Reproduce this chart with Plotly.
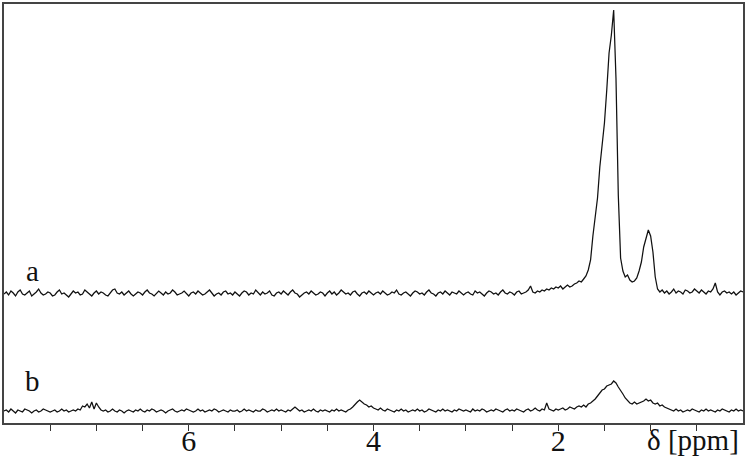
import plotly.graph_objects as go

# chemical-shift grid (ppm), 0.025 ppm steps from 8.0 down to 0.0
ppm_start = 8.0
ppm_step = 0.025

# spectrum a (intensity, arbitrary units)
spec_a = (
    [129,131,128,132,130,127,131,133,129,128,130,132,127,129,131,134,130,128,129,131]
    + [130,127,128,131,133,129,130,128,126,129,132,130,131,128,129,133,131,129,127,130]
    + [132,129,131,130,128,127,130,133,134,130,129,131,128,130,132,129,127,129,131,130]
    + [128,131,133,130,129,127,130,132,130,128,131,129,130,133,131,128,129,130,132,129]
    + [127,130,131,129,132,130,128,129,131,133,130,127,129,130,128,131,132,129,130,128]
    + [131,129,127,130,132,131,128,130,129,133,130,128,131,129,130,132,128,127,130,131]
    + [129,132,130,128,131,133,130,129,126,128,130,131,129,132,130,128,129,131,130,127]
    + [130,132,129,131,128,130,133,131,129,130,128,131,132,129,127,130,131,129,132,130]
    + [128,130,131,129,132,130,128,129,131,130,133,129,128,130,131,129,127,130,132,131]
    + [129,130,128,131,133,130,129,127,130,131,129,132,130,128,131,130,129,132,130,128]
    + [130,131,129,128,132,130,131,129,127,130,132,131,129,130,128,131,133,130,129,131]
    + [130,128,131,132,129,130,131,133,137,131,130,132,131,133,132,134,133,135,134,136]
    + [135,137,134,136,138,136,137,139,140,142,141,144,147,153,163,187]
    + [205,225,256,276,300,333,370,388,413,345,228,165,152,146,148,143,141,142,145,152,
       161,176,186,193,187,171,146,134,131]
    + [133,130,132,129,131,134,130,132,131,129,133,132,130,131,134,132,130,133,131,129,
       132,131,134,140,131,128,131,132,130,131,129,131,128,130,132,131]
)

# spectrum b (intensity, arbitrary units)
spec_b = (
    [12,13,11,14,12,10,13,12,11,14,13,12,10,12,13,11,12,14,13,12]
    + [11,12,13,11,12,14,12,13,11,12,13,12,14,13]
    + [17,16,19,15,21,14,20,16,13]
    + [12,13,11,12,14,12,11,13,12,10,12,13,12,11,13,12,14]
    + [12,11,13,12,14,13,11,12,13,12,10,12,13,14,12,11,12,13,12,14]
    + [13,12,11,12,14,12,13,11,12,13,12,14,13,11,12,13,12,11,13,12]
    + [12,13,11,12,14,12,13,12,11,13,12,12,14,13,11,12,13,12,14,12]
    + [13,12,11,13,12,14,16,14,12,13,11,12,13,12,14,12,11,13,12,13]
    + [12,11,13,12,14,12,13,12,11,13]
    + [14,16,19,21,23,21,19,18,16,17,15,14]
    + [13,15,13,12,14,13,12,11,13,12,14,12,13,11,12,13,12,14]
    + [12,13,11,12,14,13,12,11,13,12,14,12,13,12,11,13,12,14,13,12]
    + [13,12,11,14,12,13,12,14,13,11,12,13,12,14,13,12,11,13,14,12]
    + [13,12,14,13,12,11,13,14,12,13,15,13,12,14,13]
    + [20]
    + [14,13,12,14,13,14,15,13,14,16,15,14,16,17,16]
    + [18,16,19,20,22,24,27,30,33,34,37,38,39,42,40,36,33,29,25,22,
       20,19,21,19,20,21,22,24,22,23,20,19,20,17,18,16,15,14]
    + [13,12,14,12,13,11,12,13,12,14,13,12,11,13,12,14,12,13,12,11,
       13,12,14,13,12,11,13,12,14,12,13,12]
)

ppm_a = [round(ppm_start - ppm_step * i, 3) for i in range(len(spec_a))]
ppm_b = [round(ppm_start - ppm_step * i, 3) for i in range(len(spec_b))]

tick_vals = [7.5, 7.0, 6.5, 6.0, 5.5, 5.0, 4.5, 4.0, 3.5, 3.0, 2.5, 2.0, 1.5, 1.0, 0.5]
tick_text = ["", "", "", "6", "", "", "", "4", "", "", "", "2", "", "", ""]
trace_labels = ["a", "b"]
axis_title = "δ [ppm]"

serif = "Liberation Serif, Times New Roman, serif"

fig = go.Figure()
fig.add_trace(go.Scatter(x=ppm_a, y=spec_a, mode="lines",
                         line=dict(color="#111111", width=1.25), showlegend=False))
fig.add_trace(go.Scatter(x=ppm_b, y=spec_b, mode="lines",
                         line=dict(color="#111111", width=1.25), showlegend=False))

fig.add_annotation(x=7.69, y=152, text=trace_labels[0], showarrow=False,
                   font=dict(family=serif, size=29, color="#111111"))
fig.add_annotation(x=7.69, y=42, text=trace_labels[1], showarrow=False,
                   font=dict(family=serif, size=29, color="#111111"))
fig.add_annotation(x=1, y=0, xref="paper", yref="paper", xanchor="right", yanchor="bottom",
                   xshift=-2, yshift=-35, text=axis_title, showarrow=False,
                   font=dict(family=serif, size=29, color="#111111"))

fig.update_layout(
    width=748, height=458,
    margin=dict(l=4, r=5, t=4, b=35),
    paper_bgcolor="white", plot_bgcolor="white",
    xaxis=dict(range=[8.0, 0.0], showline=True, mirror=True, linecolor="#444444",
               linewidth=2, ticks="outside", ticklen=6, tickwidth=1, tickcolor="#333333",
               tickvals=tick_vals, ticktext=tick_text, showgrid=False, zeroline=False,
               automargin=False, ticklabelstandoff=-16,
               tickfont=dict(family=serif, size=30, color="#111111")),
    yaxis=dict(range=[0, 419], showline=True, mirror=True, linecolor="#444444",
               linewidth=2, ticks="", showticklabels=False, showgrid=False, zeroline=False,
               automargin=False),
)

fig.write_html("out.html", config={"displayModeBar": False},
               post_script="document.body.style.margin='0';document.body.style.overflow='hidden';")
